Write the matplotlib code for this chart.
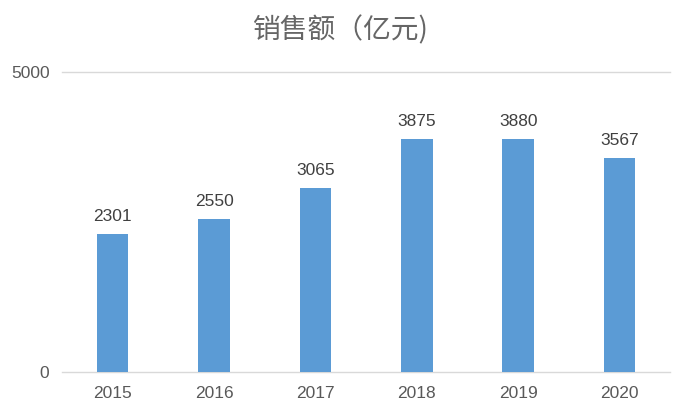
import matplotlib
matplotlib.use("Agg")
import matplotlib.pyplot as plt

years = ["2015", "2016", "2017", "2018", "2019", "2020"]
sales = [2301, 2550, 3065, 3875, 3880, 3567]
title = "销售额（亿元)"

plt.rcParams['font.family'] = ['Liberation Sans', 'Noto Sans CJK SC', 'DejaVu Sans']

fig = plt.figure(figsize=(6.96, 4.18), dpi=100)
ax = fig.add_axes([0.089, 0.110, 0.874, 0.718])
x = range(len(years))
ax.bar(x, sales, width=0.31, color="#5B9BD5", zorder=3)
for xi, v in zip(x, sales):
    ax.text(xi, v + 170, str(v), ha="center", va="bottom", fontsize=12.5, color="#404040")
ax.set_xlim(-0.5, len(years) - 0.5)
ax.set_ylim(0, 5000)
ax.set_yticks([0, 5000])
ax.set_xticks(list(x))
ax.set_xticklabels(years)
ax.tick_params(axis="both", length=0, labelsize=12.5, labelcolor="#595959")
ax.tick_params(axis="y", pad=9)
ax.tick_params(axis="x", pad=10)
ax.axhline(5000, color="#D9D9D9", lw=1, zorder=1, clip_on=False)
for s in ["top", "right", "left"]:
    ax.spines[s].set_visible(False)
ax.spines["bottom"].set_color("#D9D9D9")
ax.spines["bottom"].set_linewidth(1)
fig.text(0.49, 0.928, title, ha="center", va="center", fontsize=20, color="#666666",
         fontweight="light", family=['Noto Sans CJK SC', 'DejaVu Sans'])
fig.savefig("out.png", dpi=100)
